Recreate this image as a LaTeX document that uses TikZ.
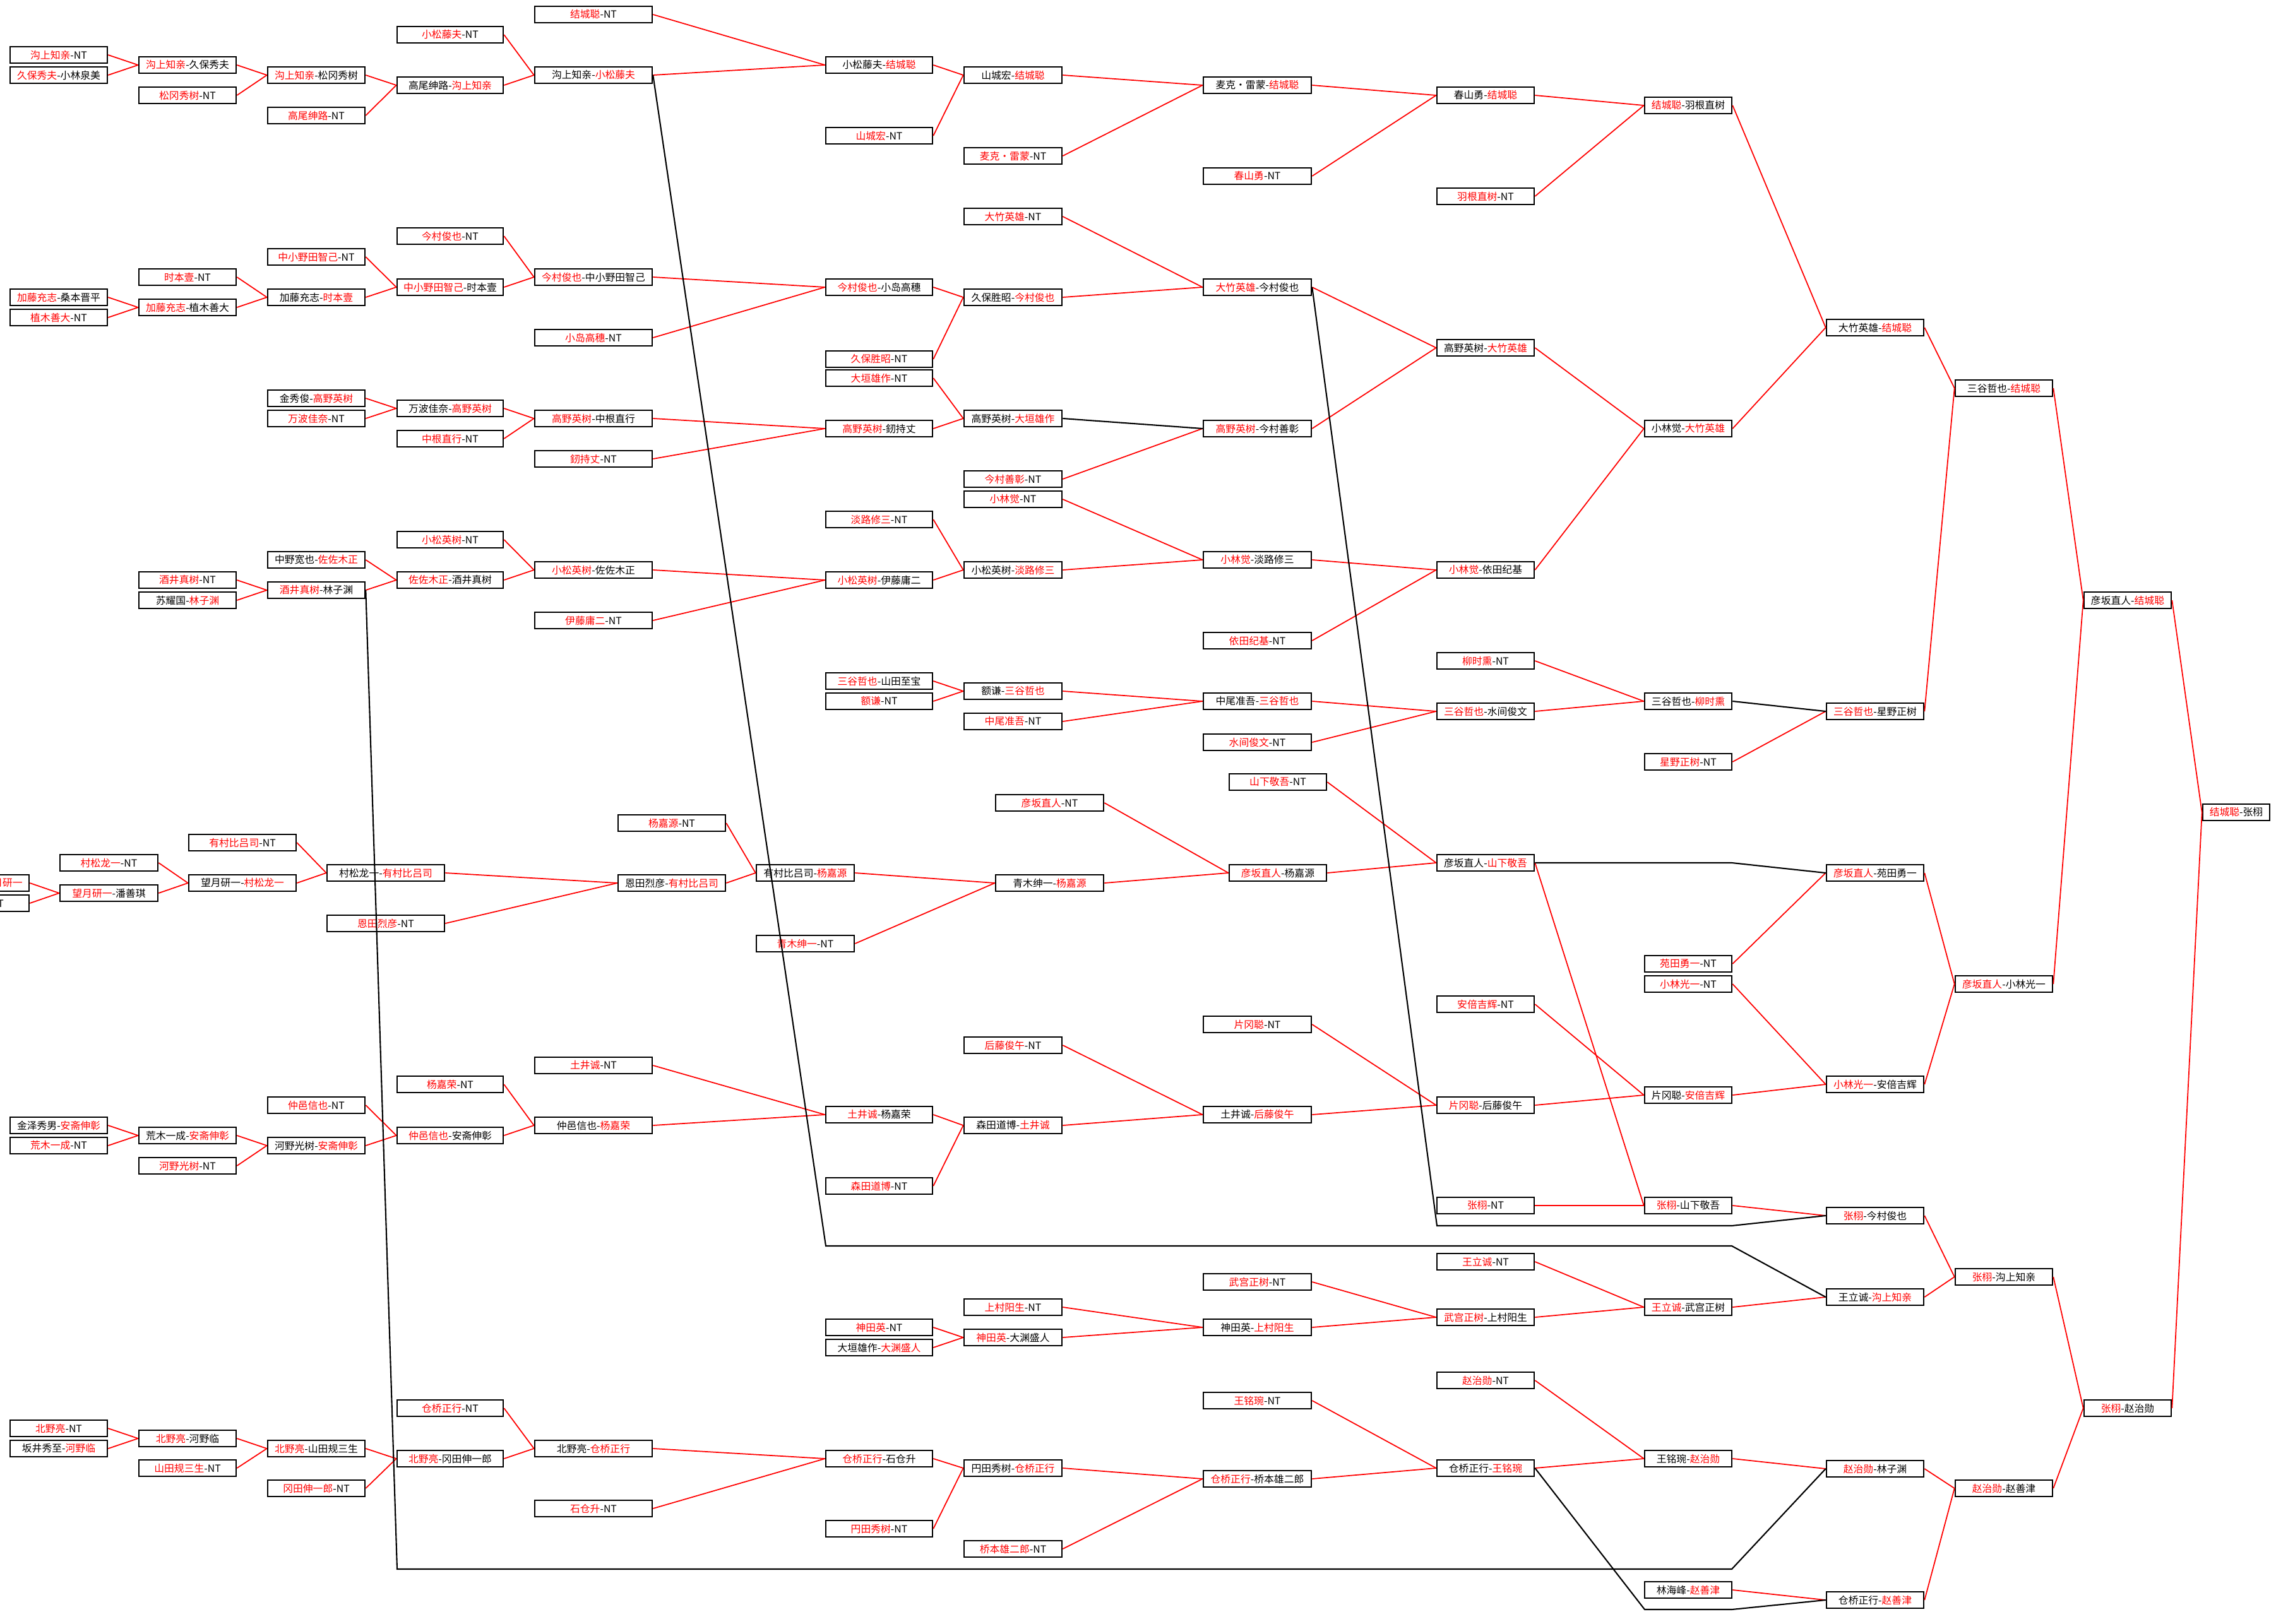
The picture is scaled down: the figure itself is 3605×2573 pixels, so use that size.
\documentclass[tikz,border=0pt]{standalone}
\usepackage{fontspec}
\setmainfont{Noto Sans CJK SC}
\newcommand{\winr}[1]{\textcolor{red}{#1}}

\begin{document}
\begin{tikzpicture}[
  x=0.02cm, y=-0.02cm,
  box/.style={draw, line width=1.5pt, fill=white, inner sep=1pt,
              minimum height=0.52cm, font=\fontsize{9}{10}\selectfont},
  colA/.style={minimum width=3.08cm},
  colD/.style={minimum width=3.36cm},
  colE/.style={minimum width=3.72cm},
  colF/.style={minimum width=3.38cm},
  colG/.style={minimum width=3.10cm},
  colH/.style={minimum width=3.42cm},
  colJ/.style={minimum width=2.76cm},
  colN/.style={minimum width=2.12cm},
  colW/.style={minimum width=3.40cm},
  win/.style={draw=red, line width=1pt},
  lose/.style={draw=black, line width=1.2pt}
]
\clip (0,0) rectangle (3605,2573);

% column A
\node[box,colA] (A1) at (93,87) {\winr{沟上知亲}-NT};
\node[box,colA] (A2) at (93,119) {\winr{久保秀夫}-小林泉美};
\node[box,colA] (A3) at (93,471) {\winr{加藤充志}-桑本晋平};
\node[box,colA] (A4) at (93,503) {\winr{植木善大}-NT};
\node[box,colA] (A5) at (93,1783) {金泽秀男-\winr{安斋伸彰}};
\node[box,colA] (A6) at (93,1815) {\winr{荒木一成}-NT};
\node[box,colA] (A7) at (93,2263) {\winr{北野亮}-NT};
\node[box,colA] (A8) at (93,2295) {坂井秀至-\winr{河野临}};
% cut by the left edge
\node[box,colA] (P1) at (-31,1399) {\hspace*{40pt}\winr{望月研一}};
\node[box,colA] (P2) at (-31,1431) {\winr{潘善琪}-NT};

% column B
\node[box,colA] (B1) at (297,103) {\winr{沟上知亲}-久保秀夫};
\node[box,colA] (B2) at (297,151) {\winr{松冈秀树}-NT};
\node[box,colA] (B3) at (297,439) {\winr{时本壹}-NT};
\node[box,colA] (B4) at (297,487) {\winr{加藤充志}-植木善大};
\node[box,colA] (B5) at (297,919) {\winr{酒井真树}-NT};
\node[box,colA] (B6) at (297,951) {苏耀国-\winr{林子渊}};
\node[box,colA] (B7) at (297,1799) {荒木一成-\winr{安斋伸彰}};
\node[box,colA] (B8) at (297,1847) {\winr{河野光树}-NT};
\node[box,colA] (B9) at (297,2279) {\winr{北野亮}-河野临};
\node[box,colA] (B10) at (297,2326) {\winr{山田规三生}-NT};
\node[box,colG] (Q1) at (172.5,1367) {\winr{村松龙一}-NT};
\node[box,colG] (Q2) at (172.5,1415) {\winr{望月研一}-潘善琪};

% column C
\node[box,colA] (C1) at (501,119) {\winr{沟上知亲}-松冈秀树};
\node[box,colA] (C2) at (501,183) {\winr{高尾绅路}-NT};
\node[box,colA] (C3) at (501,407) {\winr{中小野田智己}-NT};
\node[box,colA] (C4) at (501,471) {加藤充志-\winr{时本壹}};
\node[box,colA] (C5) at (501,631) {金秀俊-\winr{高野英树}};
\node[box,colA] (C6) at (501,663) {\winr{万波佳奈}-NT};
\node[box,colA] (C7) at (501,887) {中野宽也-\winr{佐佐木正}};
\node[box,colA] (C8) at (501,935) {\winr{酒井真树}-林子渊};
\node[box,colA] (C9) at (501,1751) {\winr{仲邑信也}-NT};
\node[box,colA] (C10) at (501,1815) {河野光树-\winr{安斋伸彰}};
\node[box,colA] (C11) at (501,2295) {\winr{北野亮}-山田规三生};
\node[box,colA] (C12) at (501,2358) {\winr{冈田伸一郎}-NT};
\node[box,colW] (R1) at (384,1335) {\winr{有村比吕司}-NT};
\node[box,colW] (R2) at (384,1399) {望月研一-\winr{村松龙一}};

% column D
\node[box,colD] (D1) at (713,55) {\winr{小松藤夫}-NT};
\node[box,colD] (D2) at (713,135) {高尾绅路-\winr{沟上知亲}};
\node[box,colD] (D3) at (713,374) {\winr{今村俊也}-NT};
\node[box,colD] (D4) at (713,455) {\winr{中小野田智己}-时本壹};
\node[box,colD] (D5) at (713,647) {万波佳奈-\winr{高野英树}};
\node[box,colD] (D6) at (713,695) {\winr{中根直行}-NT};
\node[box,colD] (D7) at (713,855) {\winr{小松英树}-NT};
\node[box,colD] (D8) at (713,919) {\winr{佐佐木正}-酒井真树};
\node[box,colD] (D9) at (713,1718) {\winr{杨嘉荣}-NT};
\node[box,colD] (D10) at (713,1799) {\winr{仲邑信也}-安斋伸彰};
\node[box,colD] (D11) at (713,2231) {\winr{仓桥正行}-NT};
\node[box,colD] (D12) at (713,2311) {\winr{北野亮}-冈田伸一郎};
\node[box,colE] (S1) at (611,1383) {村松龙一-\winr{有村比吕司}};
\node[box,colE] (S2) at (611,1463) {\winr{恩田烈彦}-NT};
\node[box,colW] (T1) at (1064,1304) {\winr{杨嘉源}-NT};
\node[box,colW] (T2) at (1064,1399) {恩田烈彦-\winr{有村比吕司}};

% column E
\node[box,colE] (E1) at (940,23) {\winr{结城聪}-NT};
\node[box,colE] (E2) at (940,119) {沟上知亲-\winr{小松藤夫}};
\node[box,colE] (E3) at (940,439) {\winr{今村俊也}-中小野田智己};
\node[box,colE] (E4) at (940,535) {\winr{小岛高穗}-NT};
\node[box,colE] (E5) at (940,663) {\winr{高野英树}-中根直行};
\node[box,colE] (E6) at (940,727) {\winr{釰持丈}-NT};
\node[box,colE] (E7) at (940,903) {\winr{小松英树}-佐佐木正};
\node[box,colE] (E8) at (940,983) {\winr{伊藤庸二}-NT};
\node[box,colE] (E9) at (940,1688) {\winr{土井诚}-NT};
\node[box,colE] (E10) at (940,1783) {仲邑信也-\winr{杨嘉荣}};
\node[box,colE] (E11) at (940,2295) {北野亮-\winr{仓桥正行}};
\node[box,colE] (E12) at (940,2390) {\winr{石仓升}-NT};
\node[box,colG] (U1) at (1275.5,1383) {有村比吕司-\winr{杨嘉源}};
\node[box,colG] (U2) at (1275.5,1495) {\winr{青木绅一}-NT};

% column F
\node[box,colF] (F1) at (1392.5,103) {小松藤夫-\winr{结城聪}};
\node[box,colF] (F2) at (1392.5,215) {\winr{山城宏}-NT};
\node[box,colF] (F3) at (1392.5,455) {\winr{今村俊也}-小岛高穗};
\node[box,colF] (F4) at (1392.5,569) {\winr{久保胜昭}-NT};
\node[box,colF] (F5) at (1392.5,599) {\winr{大垣雄作}-NT};
\node[box,colF] (F6) at (1392.5,679) {\winr{高野英树}-釰持丈};
\node[box,colF] (F7) at (1392.5,823) {\winr{淡路修三}-NT};
\node[box,colF] (F8) at (1392.5,919) {\winr{小松英树}-伊藤庸二};
\node[box,colF] (F9) at (1392.5,1079) {\winr{三谷哲也}-山田至宝};
\node[box,colF] (F10) at (1392.5,1111) {\winr{额谦}-NT};
\node[box,colF] (F11) at (1392.5,1766) {\winr{土井诚}-杨嘉荣};
\node[box,colF] (F12) at (1392.5,1879) {\winr{森田道博}-NT};
\node[box,colF] (F13) at (1392.5,2103) {\winr{神田英}-NT};
\node[box,colF] (F14) at (1392.5,2135) {大垣雄作-\winr{大渊盛人}};
\node[box,colF] (F15) at (1392.5,2311) {\winr{仓桥正行}-石仓升};
\node[box,colF] (F16) at (1392.5,2422) {\winr{円田秀树}-NT};

% column G
\node[box,colG] (G1) at (1604.5,119) {山城宏-\winr{结城聪}};
\node[box,colG] (G2) at (1604.5,247) {\winr{麦克・雷蒙}-NT};
\node[box,colG] (G3) at (1604.5,343) {\winr{大竹英雄}-NT};
\node[box,colG] (G4) at (1604.5,471) {久保胜昭-\winr{今村俊也}};
\node[box,colG] (G5) at (1604.5,663) {高野英树-\winr{大垣雄作}};
\node[box,colG] (G6) at (1604.5,759) {\winr{今村善彰}-NT};
\node[box,colG] (G7) at (1604.5,791) {\winr{小林觉}-NT};
\node[box,colG] (G8) at (1604.5,903) {小松英树-\winr{淡路修三}};
\node[box,colG] (G9) at (1604.5,1095) {额谦-\winr{三谷哲也}};
\node[box,colG] (G10) at (1604.5,1143) {\winr{中尾准吾}-NT};
\node[box,colG] (G11) at (1604.5,1656) {\winr{后藤俊午}-NT};
\node[box,colG] (G12) at (1604.5,1783) {森田道博-\winr{土井诚}};
\node[box,colG] (G13) at (1604.5,2071) {\winr{上村阳生}-NT};
\node[box,colG] (G14) at (1604.5,2119) {\winr{神田英}-大渊盛人};
\node[box,colG] (G15) at (1604.5,2326) {円田秀树-\winr{仓桥正行}};
\node[box,colG] (G16) at (1604.5,2454) {\winr{桥本雄二郎}-NT};
\node[box,colH] (V1) at (1662.5,1272) {\winr{彦坂直人}-NT};
\node[box,colH] (V2) at (1662.5,1399) {青木绅一-\winr{杨嘉源}};

% column H
\node[box,colH] (H1) at (1991.5,135) {麦克・雷蒙-\winr{结城聪}};
\node[box,colH] (H2) at (1991.5,279) {\winr{春山勇}-NT};
\node[box,colH] (H3) at (1991.5,455) {\winr{大竹英雄}-今村俊也};
\node[box,colH] (H4) at (1991.5,679) {\winr{高野英树}-今村善彰};
\node[box,colH] (H5) at (1991.5,887) {\winr{小林觉}-淡路修三};
\node[box,colH] (H6) at (1991.5,1015) {\winr{依田纪基}-NT};
\node[box,colH] (H7) at (1991.5,1111) {中尾准吾-\winr{三谷哲也}};
\node[box,colH] (H8) at (1991.5,1176) {\winr{水间俊文}-NT};
\node[box,colH] (H9) at (1991.5,1623) {\winr{片冈聪}-NT};
\node[box,colH] (H10) at (1991.5,1766) {土井诚-\winr{后藤俊午}};
\node[box,colH] (H11) at (1991.5,2031) {\winr{武宫正树}-NT};
\node[box,colH] (H12) at (1991.5,2103) {神田英-\winr{上村阳生}};
\node[box,colH] (H13) at (1991.5,2219) {\winr{王铭琬}-NT};
\node[box,colH] (H14) at (1991.5,2343) {\winr{仓桥正行}-桥本雄二郎};
\node[box,colA] (W1) at (2024,1239) {\winr{山下敬吾}-NT};
\node[box,colA] (W2) at (2024,1383) {\winr{彦坂直人}-杨嘉源};

% column I
\node[box,colA] (I1) at (2353,151) {春山勇-\winr{结城聪}};
\node[box,colA] (I2) at (2353,311) {\winr{羽根直树}-NT};
\node[box,colA] (I3) at (2353,551) {高野英树-\winr{大竹英雄}};
\node[box,colA] (I4) at (2353,903) {\winr{小林觉}-依田纪基};
\node[box,colA] (I5) at (2353,1047) {\winr{柳时熏}-NT};
\node[box,colA] (I6) at (2353,1127) {\winr{三谷哲也}-水间俊文};
\node[box,colA] (I7) at (2353,1367) {彦坂直人-\winr{山下敬吾}};
\node[box,colA] (I8) at (2353,1591) {\winr{安倍吉辉}-NT};
\node[box,colA] (I9) at (2353,1751) {\winr{片冈聪}-后藤俊午};
\node[box,colA] (I10) at (2353,1910) {\winr{张栩}-NT};
\node[box,colA] (I11) at (2353,1999) {\winr{王立诚}-NT};
\node[box,colA] (I12) at (2353,2087) {\winr{武宫正树}-上村阳生};
\node[box,colA] (I13) at (2353,2187) {\winr{赵治勋}-NT};
\node[box,colA] (I14) at (2353,2326) {仓桥正行-\winr{王铭琬}};

% column J
\node[box,colJ] (J1) at (2674,167) {\winr{结城聪}-羽根直树};
\node[box,colJ] (J2) at (2674,679) {小林觉-\winr{大竹英雄}};
\node[box,colJ] (J3) at (2674,1111) {三谷哲也-\winr{柳时熏}};
\node[box,colJ] (J4) at (2674,1207) {\winr{星野正树}-NT};
\node[box,colJ] (J5) at (2674,1527) {\winr{苑田勇一}-NT};
\node[box,colJ] (J6) at (2674,1559) {\winr{小林光一}-NT};
\node[box,colJ] (J7) at (2674,1735) {片冈聪-\winr{安倍吉辉}};
\node[box,colJ] (J8) at (2674,1910) {\winr{张栩}-山下敬吾};
\node[box,colJ] (J9) at (2674,2071) {\winr{王立诚}-武宫正树};
\node[box,colJ] (J10) at (2674,2311) {王铭琬-\winr{赵治勋}};
\node[box,colJ] (J11) at (2674,2519) {林海峰-\winr{赵善津}};

% column K
\node[box,colA] (K1) at (2970,519) {大竹英雄-\winr{结城聪}};
\node[box,colA] (K2) at (2970,1127) {\winr{三谷哲也}-星野正树};
\node[box,colA] (K3) at (2970,1383) {\winr{彦坂直人}-苑田勇一};
\node[box,colA] (K4) at (2970,1718) {\winr{小林光一}-安倍吉辉};
\node[box,colA] (K5) at (2970,1926) {\winr{张栩}-今村俊也};
\node[box,colA] (K6) at (2970,2055) {王立诚-\winr{沟上知亲}};
\node[box,colA] (K7) at (2970,2327) {\winr{赵治勋}-林子渊};
\node[box,colA] (K8) at (2970,2535) {仓桥正行-\winr{赵善津}};

% columns L, M, N
\node[box,colA] (L1) at (3174,615) {三谷哲也-\winr{结城聪}};
\node[box,colA] (L2) at (3174,1559) {\winr{彦坂直人}-小林光一};
\node[box,colA] (L3) at (3174,2023) {\winr{张栩}-沟上知亲};
\node[box,colA] (L4) at (3174,2358) {\winr{赵治勋}-赵善津};
\node[box,colJ] (M1) at (3370,951) {彦坂直人-\winr{结城聪}};
\node[box,colJ] (M2) at (3370,2231) {\winr{张栩}-赵治勋};
\node[box,colN] (N1) at (3542,1287) {\winr{结城聪}-张栩};

% winners
\foreach \a/\b in {A1/B1,A2/B1,B1/C1,B2/C1,C1/D2,C2/D2,D1/E2,D2/E2,
  E1/F1,E2/F1,F1/G1,F2/G1,G1/H1,G2/H1,H1/I1,H2/I1,I1/J1,I2/J1,
  J1/K1,J2/K1,K1/L1,K2/L1,L1/M1,L2/M1,M1/N1,M2/N1,
  A3/B4,A4/B4,B3/C4,B4/C4,C3/D4,C4/D4,D3/E3,D4/E3,E3/F3,E4/F3,
  F3/G4,F4/G4,G3/H3,G4/H3,H3/I3,H4/I3,I3/J2,I4/J2,
  C5/D5,C6/D5,D5/E5,D6/E5,E5/F6,E6/F6,F5/G5,F6/G5,G6/H4,
  B5/C8,B6/C8,C7/D8,C8/D8,D7/E7,D8/E7,E7/F8,E8/F8,F7/G8,F8/G8,
  G7/H5,G8/H5,H5/I4,H6/I4,
  F9/G9,F10/G9,G9/H7,G10/H7,H7/I6,H8/I6,I5/J3,I6/J3,J4/K2,
  P1/Q2,P2/Q2,Q1/R2,Q2/R2,R1/S1,R2/S1,S1/T2,S2/T2,T1/U1,T2/U1,
  U1/V2,U2/V2,V1/W2,V2/W2,W1/I7,W2/I7,I7/J8,I10/J8,J8/K5,
  K5/L3,K6/L3,L3/M2,J5/K3,K3/L2,J6/K4,J7/K4,K4/L2,
  A5/B7,A6/B7,B7/C10,B8/C10,C9/D10,C10/D10,D9/E10,D10/E10,
  E9/F11,E10/F11,F11/G12,F12/G12,G11/H10,G12/H10,H9/I9,H10/I9,
  I8/J7,I9/J7,
  F13/G14,F14/G14,G13/H12,G14/H12,H11/I12,H12/I12,I11/J9,I12/J9,J9/K6,
  A7/B9,A8/B9,B9/C11,B10/C11,C11/D12,C12/D12,D11/E11,D12/E11,
  E11/F15,E12/F15,F15/G15,F16/G15,G15/H14,G16/H14,H13/I14,H14/I14,
  I13/J10,I14/J10,J10/K7,K7/L4,J11/K8,K8/L4,L4/M2}
  \draw[win] (\a.east) -- (\b.west);

% losers
\coordinate (kuA) at (1308,1974);
\coordinate (kuB) at (2743,1974);
\coordinate (imA) at (2276,1942);
\coordinate (imB) at (2743,1942);
\coordinate (hyA) at (629,2486);
\coordinate (hyB) at (2743,2486);
\coordinate (kbA) at (2605,2550);
\coordinate (kbB) at (2743,2550);
\coordinate (hsB) at (2743,1367);
\draw[lose] (G5.east) -- (H4.west);
\draw[lose] (J3.east) -- (K2.west);
\draw[lose] (E2.east) -- (kuA) -- (kuB) -- (K6.west);
\draw[lose] (H3.east) -- (imA) -- (imB) -- (K5.west);
\draw[lose] (C8.east) -- (hyA) -- (hyB) -- (K7.west);
\draw[lose] (I14.east) -- (kbA) -- (kbB) -- (K8.west);
\draw[lose] (I7.east) -- (hsB) -- (K3.west);
\end{tikzpicture}
\end{document}
